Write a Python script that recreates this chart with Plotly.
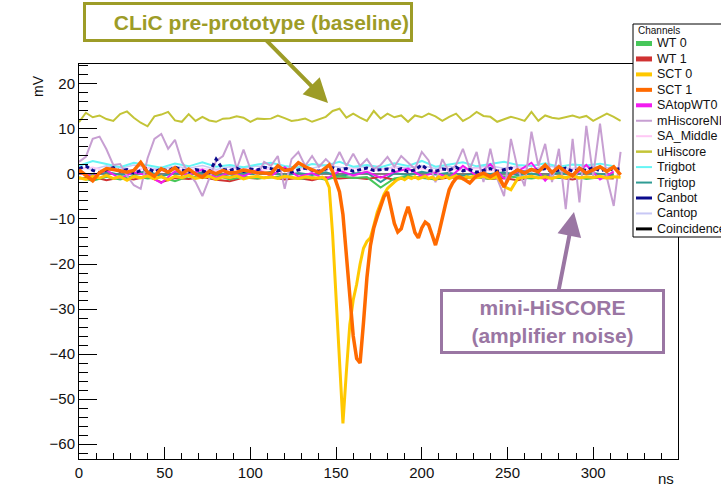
import plotly.graph_objects as go

# ---------------------------------------------------------------- sample times (ns)
t_fine = list(range(0, 320, 4))
t_coarse = list(range(0, 320, 8))
t_sct = list(range(0, 140, 4)) + list(range(140, 232, 2)) + list(range(232, 320, 4))

channel_names = ["WT 0", "WT 1", "SCT 0", "SCT 1", "SAtopWT0", "mHiscoreNI",
                 "SA_Middle", "uHiscore", "Trigbot", "Trigtop", "Canbot",
                 "Cantop", "Coincidence"]

# ---------------------------------------------------------------- amplitudes (mV)
wt0_mv = [-0.8, -1.5, -0.6, -1.2, -0.4, -1.0, -0.7, -1.6, -0.5, -0.9,
          -0.3, -1.2, -0.6, -1.0, -0.8, -0.4, -1.1, -0.7, -1.3, -0.5,
          -0.9, -0.7, -3.0, -1.0, -0.5, -0.8, -1.2, -0.4, -0.9, -0.7,
          -1.1, -0.5, -0.8, -1.0, -0.6, -0.9, -0.4, -1.1, -0.7, -0.8]

wt1_mv = [-1.0, -0.6, -1.4, -0.8, -1.2, -0.5, -1.8, -0.9, -1.1, -0.7,
          -1.3, -1.6, -0.8, -1.0, -0.6, -1.2, -0.9, -1.4, -0.7, -1.0,
          -0.8, -1.1, -0.6, -1.3, -0.9, -0.7, -1.2, -0.8, -1.0, -0.6,
          -1.1, -0.9, -1.4, -0.7, -1.0, -0.8, -1.2, -0.6, -0.9, -1.0]

sct0_mv = [-0.8, -1.2, -0.5, -0.9, -0.3, -1.0, -0.6, -1.4, -0.5, -0.9,
           -0.4, -1.1, -0.6, -1.3, -0.5, -0.8, -0.3, -1.0, -0.7, -0.5,
           -1.2, -0.6, -0.8, -0.4, -1.1, -0.7, -0.5, -0.9, -0.6, -1.0,
           -0.5, -0.8, -1.0, -0.6, -0.9,
           -0.9, -0.7, -1.2, -3.0, -13.5, -28.5, -43.5, -55.4, -44.0, -33.5,
           -28.0, -24.5, -20.0, -16.5, -15.0, -14.2, -11.5, -8.5, -6.5, -4.5,
           -3.2, -2.4, -1.8, -1.2, -0.9, -1.3, -0.7, -1.0, -0.6, -1.1,
           -0.8, -0.5, -1.0, -0.7, -1.2, -0.6, -0.9, -0.5, -1.0, -0.7,
           -0.4, -0.9, -1.1, -0.6, -0.8, -0.5,
           -0.8, -0.5, -1.0, -0.6, -2.8, -3.5, -1.0, -0.7, -0.5, -0.9,
           -0.6, -1.0, -0.5, -0.8, -0.4, -0.9, -0.6, -0.8, -0.5, -0.9,
           -0.6, -0.7]

sct1_mv = [0.9, -0.2, -1.5, 0.3, 1.2, 1.0, 0.6, 0.4, 0.8, 2.6,
           0.4, -0.5, 1.2, 0.4, 1.4, 0.0, 1.1, 0.0, -0.7, 0.6,
           0.1, 0.8, 0.2, 0.4, 0.9, 0.5, 0.3, 0.2, 0.1, 1.8,
           0.8, 1.0, 2.5, 1.6, 1.0,
           0.3, 0.8, 1.5, 2.0, 0.5, -1.5, -4.0, -9.0, -18.0, -28.5,
           -36.0, -41.0, -42.0, -33.0, -23.0, -16.0, -12.0, -9.5, -7.0, -5.0,
           -4.0, -7.5, -11.0, -12.9, -12.2, -9.5, -7.3, -10.0, -13.0, -14.2,
           -12.0, -10.7, -11.3, -13.5, -15.8, -13.1, -9.5, -6.5, -3.5, -2.0,
           -1.0, -0.6, -1.0, -1.5, -2.0, -1.2,
           -0.4, 0.2, -0.6, 0.3, -2.9, 0.0, 0.9, 0.2, 1.0, 0.5,
           2.0, 0.3, 1.6, 0.5, -0.4, 1.3, 0.2, 0.9, 1.6, 0.6,
           1.6, -0.2]

satop_mv = [0.2, -0.5, 0.8, -1.0, 0.4, -0.3, -2.0, 0.6, -0.2, 1.0,
            -0.8, 0.3, -0.5, 0.9, -0.4, 1.5, -0.6, 0.2, -1.2, 0.7,
            -0.3, 0.5, -0.8, 0.4, 1.2, -0.5, 0.3, -0.9, 1.8, -0.4,
            2.2, -1.0, 0.6, 2.5, -1.5, 1.8, -0.6, 2.0, -1.2, 0.5]

mhiscore_mv = [2.7, 3.8, 7.8, 8.3, 5.5, 2.0, 2.2, -0.4, -2.5, -3.3,
               3.5, 7.8, 8.9, 5.6, 7.6, 2.7, 0.2, -1.8, -4.9, -1.0,
               2.9, 4.0, 7.4, 1.1, 5.4, 1.1, -0.4, 2.7, 1.8, 4.0,
               -3.3, 3.3, 4.9, 1.8, 4.0, 1.6, 3.3, 1.8, 4.9, 1.8,
               4.5, 1.8, 3.3, 1.1, 2.0, 3.8, 1.6, 4.0, 2.5, 1.1,
               4.9, 3.0, -1.8, 3.3, 0.4, 2.0, 5.6, 1.1, 4.9, -1.8,
               5.6, -1.0, -4.9, 7.8, 1.1, -2.7, 9.4, 1.8, 6.7, -1.8,
               5.6, -7.8, 7.8, -6.3, 10.7, -0.4, 11.2, -0.8, -7.1, 4.9]

samiddle_mv = [1.0, 1.5, 0.6, 1.2, 0.8, 1.4, 0.5, 1.1, 0.9, 1.3,
               0.7, 1.0, 1.5, 0.6, 1.2, 0.9, 1.4, 0.7, 1.1, 0.8,
               1.3, 0.6, 1.0, 1.4, 0.8, 1.2, 0.5, 1.1, 0.9, 1.3,
               0.7, 1.0, 1.5, 0.8, 1.2, 0.6, 1.1, 0.9, 1.3, 1.0]

uhiscore_mv = [11.5, 13.6, 12.6, 13.0, 12.2, 11.8, 13.3, 13.9, 12.5, 11.4,
               10.6, 12.8, 13.2, 13.8, 11.9, 11.6, 13.3, 11.8, 12.7, 11.9,
               11.6, 12.3, 12.4, 12.8, 12.5, 11.6, 12.3, 12.2, 12.3, 13.0,
               12.4, 11.8, 12.0, 12.3, 11.6, 12.2, 12.7, 14.0, 14.5, 12.5,
               13.4, 12.5, 11.8, 14.0, 12.3, 13.4, 12.6, 13.0, 11.6, 13.0,
               12.6, 13.4, 12.8, 11.8, 12.7, 13.4, 11.8, 12.6, 13.8, 12.9,
               12.7, 11.6, 12.2, 12.7, 12.3, 11.8, 13.8, 11.8, 13.0, 12.5,
               12.3, 12.6, 13.0, 12.5, 12.9, 11.8, 12.6, 13.4, 12.7, 11.8]

trigbot_mv = [1.8, 2.9, 2.2, 1.5, 2.5, 1.9, 1.4, 2.3, 1.7, 2.6,
              1.6, 2.0, 1.5, 2.1, 2.5, 1.8, 1.4, 2.2, 1.9, 2.7,
              1.6, 2.0, 1.5, 2.4, 1.8, 2.9, 1.6, 2.1, 2.6, 1.7,
              2.2, 2.7, 2.0, 1.8, 2.4, 1.6, 2.1, 1.9, 2.3, 1.7]

trigtop_mv = [0.3, -0.4, 0.5, -0.2, 0.1, 0.6, -0.5, 0.2, -0.3, 0.4,
              0.0, -0.6, 0.3, -0.1, 0.5, -0.4, 0.2, -0.2, 0.4, -0.5,
              0.1, 0.3, -1.8, 0.2, -0.3, 0.5, -0.1, 0.3, -0.4, 0.2,
              0.0, 0.4, -0.3, 0.1, -0.5, 0.3, -0.2, 0.4, 0.0, -0.3]

canbot_mv = [1.2, 1.8, 0.8, 0.3, 0.9, 1.4, 0.6, 1.0, 0.2, 0.8,
             1.3, 0.5, 1.1, 0.7, 1.5, 0.9, 0.4, 1.0, 0.6, 0.3,
             3.3, 1.0, 0.8, 1.3, 0.6, 1.1, 0.9, 1.5, 1.2, 0.7,
             1.0, 0.4, 0.9, 1.3, 0.8, 0.6, 1.1, 1.4, 0.9, 1.2,
             0.6, 1.0, 1.3, 0.8, 0.9, 1.1, 0.7, 1.2, 0.5, 0.9,
             2.0, 0.8, 0.6, 1.1, 0.9, 1.5, 0.7, 1.0, 0.4, 0.8,
             1.2, 0.6, 0.9, 1.3, 0.7, 0.4, 1.0, 0.8, 1.2, 0.5,
             0.9, 1.3, 0.6, 1.0, 0.8, 1.4, 0.7, 1.1, 0.9, 1.2]

cantop_mv = [1.5, 1.0, 1.8, 1.2, 2.0, 1.4, 1.1, 1.7, 1.3, 1.9,
             1.0, 1.6, 1.2, 1.8, 1.4, 1.1, 1.7, 1.3, 2.0, 1.5,
             1.2, 1.8, 1.0, 1.6, 1.4, 1.9, 1.2, 1.7, 1.1, 1.5,
             1.8, 1.3, 1.6, 1.0, 1.9, 1.4, 1.2, 1.7, 1.5, 1.3]

coincidence_mv = [0.0, 0.0, 0.0, 0.0, 0.0, 0.0, 0.0, 0.0, 0.0, 0.0,
                  0.0, 0.0, 0.0, 0.0, 0.0, 0.0, 0.0, 0.0, 0.0, 0.0,
                  0.0, 0.0, 0.0, 0.0, 0.0, 0.0, 0.0, 0.0, 0.0, 0.0,
                  0.0, 0.0, 0.0, 0.0, 0.0, 0.0, 0.0, 0.0, 0.0, 0.0]

series = {
    "WT 0": (t_coarse, wt0_mv),
    "WT 1": (t_coarse, wt1_mv),
    "SCT 0": (t_sct, sct0_mv),
    "SCT 1": (t_sct, sct1_mv),
    "SAtopWT0": (t_coarse, satop_mv),
    "mHiscoreNI": (t_fine, mhiscore_mv),
    "SA_Middle": (t_coarse, samiddle_mv),
    "uHiscore": (t_fine, uhiscore_mv),
    "Trigbot": (t_coarse, trigbot_mv),
    "Trigtop": (t_coarse, trigtop_mv),
    "Canbot": (t_fine, canbot_mv),
    "Cantop": (t_coarse, cantop_mv),
    "Coincidence": (t_coarse, coincidence_mv),
}

# ---------------------------------------------------------------- styles
colors = {
    "WT 0": "#47c75a", "WT 1": "#d03232", "SCT 0": "#ffc800", "SCT 1": "#ff6a00",
    "SAtopWT0": "#f21cf0", "mHiscoreNI": "#c79fd2", "SA_Middle": "#ffc8f5",
    "uHiscore": "#c3c437", "Trigbot": "#66f5f5", "Trigtop": "#2f9c94",
    "Canbot": "#0a0a8c", "Cantop": "#c8c8f5", "Coincidence": "#000000",
}
line_widths = {
    "WT 0": 2, "WT 1": 2, "SCT 0": 3, "SCT 1": 3.5, "SAtopWT0": 2,
    "mHiscoreNI": 2, "SA_Middle": 1.5, "uHiscore": 2, "Trigbot": 2,
    "Trigtop": 2, "Canbot": 3, "Cantop": 1.5, "Coincidence": 1,
}
swatch_widths = {
    "WT 0": 5, "WT 1": 5, "SCT 0": 4, "SCT 1": 4, "SAtopWT0": 4,
    "mHiscoreNI": 2, "SA_Middle": 2, "uHiscore": 2.5, "Trigbot": 2,
    "Trigtop": 2, "Canbot": 3, "Cantop": 2, "Coincidence": 3,
}
draw_order = ["Coincidence", "Cantop", "SA_Middle", "Trigtop", "WT 1", "WT 0",
              "Trigbot", "SAtopWT0", "mHiscoreNI", "uHiscore", "SCT 0",
              "Canbot", "SCT 1"]

W, H = 721, 497
L, R, T, B = 79, 43, 64, 38
FONT = "Liberation Sans, Arial, Helvetica, sans-serif"
OLIVE = "#9d9c27"
PURPLE = "#9a76a3"


def px_x(px):
    return (px - L) / (W - L - R)


def px_y(py):
    return (H - B - py) / (H - T - B)


fig = go.Figure()
for name in draw_order:
    t, v = series[name]
    fig.add_trace(go.Scatter(
        x=t, y=v, mode="lines", name=name, showlegend=False,
        line=dict(color=colors[name], width=line_widths[name],
                  dash="4px,3px" if name == "Canbot" else "solid"),
    ))

fig.update_layout(
    width=W, height=H,
    margin=dict(l=L, r=R, t=T, b=B, autoexpand=False),
    paper_bgcolor="white", plot_bgcolor="white",
    showlegend=False,
    font=dict(family=FONT, color="#111"),
)
fig.update_xaxes(
    range=[0, 349.5], tick0=0, dtick=50, ticks="inside", ticklen=12,
    tickwidth=1, tickcolor="black", showline=True, linecolor="black",
    linewidth=1, mirror=True, showgrid=False, zeroline=False,
    tickfont=dict(size=15, family=FONT, color="#111"),
    minor=dict(dtick=10, ticks="inside", ticklen=6, tickcolor="black",
               showgrid=False),
)
fig.update_yaxes(
    range=[-63.33, 24.44], tick0=0, dtick=10, ticks="inside", ticklen=18,
    tickwidth=1, tickcolor="black", showline=True, linecolor="black",
    linewidth=1, mirror=True, showgrid=False, zeroline=False,
    tickfont=dict(size=15, family=FONT, color="#111"),
    minor=dict(dtick=2, ticks="inside", ticklen=9, tickcolor="black",
               showgrid=False),
)

annotations = []
shapes = []

# axis titles
annotations.append(dict(xref="paper", yref="paper", x=px_x(28), y=px_y(73),
                        text="mV", textangle=-90, showarrow=False,
                        font=dict(size=14, family=FONT, color="#111")))
annotations.append(dict(xref="paper", yref="paper", x=px_x(676), y=px_y(489),
                        xanchor="right", text="ns", showarrow=False,
                        font=dict(size=15, family=FONT, color="#111")))

# legend box
shapes.append(dict(type="rect", xref="paper", yref="paper", layer="above",
                   x0=px_x(633), x1=px_x(760), y0=px_y(237), y1=px_y(24),
                   line=dict(color="black", width=1), fillcolor="white"))
annotations.append(dict(xref="paper", yref="paper", x=px_x(636), y=px_y(30.5),
                        xanchor="left", yanchor="middle", text="Channels",
                        showarrow=False,
                        font=dict(size=10, family=FONT, color="#111")))
for i, name in enumerate(channel_names):
    yy = 43.5 + 15.45 * i
    shapes.append(dict(type="line", xref="paper", yref="paper", layer="above",
                       x0=px_x(636), x1=px_x(652), y0=px_y(yy), y1=px_y(yy),
                       line=dict(color=colors[name], width=swatch_widths[name])))
    annotations.append(dict(xref="paper", yref="paper", x=px_x(655), y=px_y(yy),
                            xanchor="left", yanchor="middle", text=name,
                            showarrow=False,
                            font=dict(size=12.5, family=FONT, color="#111")))

# call-out boxes with arrows
annotations.append(dict(
    xref="x", yref="y", x=145.3, y=15.8, ax=-80, ay=-81,
    text="<b>CLiC pre-prototype (baseline)</b>", align="right",
    width=322, height=32, borderpad=1, borderwidth=3, bordercolor=OLIVE,
    bgcolor="white", font=dict(size=21, family=FONT, color=OLIVE),
    showarrow=True, arrowhead=2, arrowsize=1.2, arrowwidth=4,
    arrowcolor=OLIVE, standoff=0,
))
annotations.append(dict(
    xref="x", yref="y", x=288.8, y=-8.45, ax=-21.5, ay=109.5,
    text="<b>mini-HiSCORE<br>(amplifier noise)</b>", align="center",
    width=217, height=57, borderpad=1, borderwidth=3, bordercolor=PURPLE,
    bgcolor="white", font=dict(size=21, family=FONT, color=PURPLE),
    showarrow=True, arrowhead=2, arrowsize=1.2, arrowwidth=4,
    arrowcolor=PURPLE, standoff=0,
))

fig.update_layout(annotations=annotations, shapes=shapes)
fig.write_html("out.html")
